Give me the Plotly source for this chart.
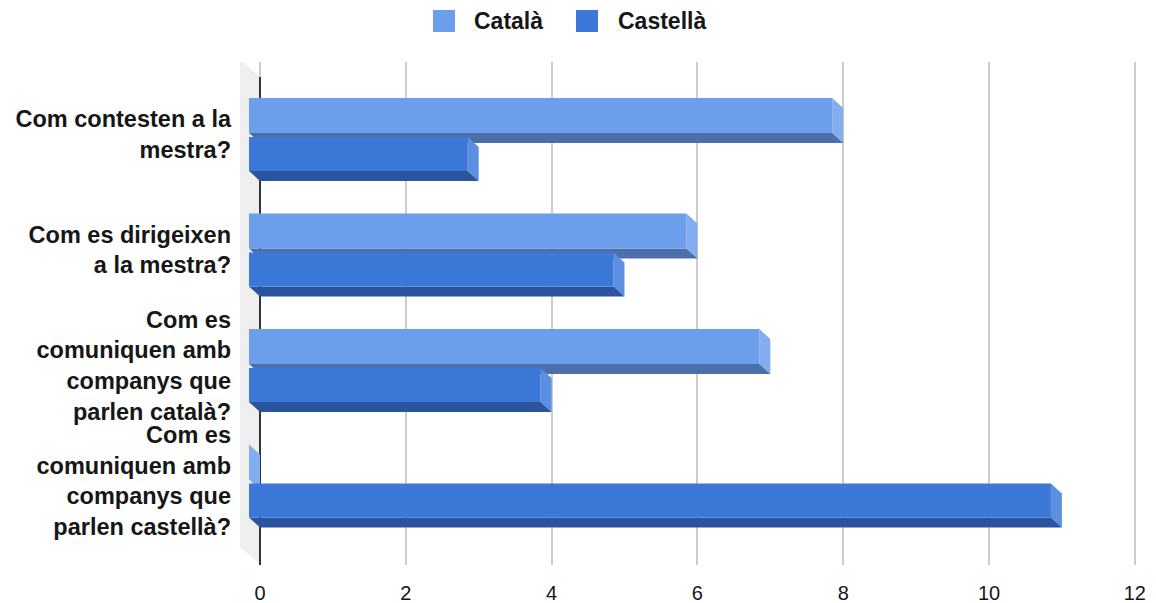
import plotly.graph_objects as go

# ---- data -------------------------------------------------------------
categories = [
    "Com contesten a la<br>mestra?",
    "Com es dirigeixen<br>a la mestra?",
    "Com es<br>comuniquen amb<br>companys que<br>parlen català?",
    "Com es<br>comuniquen amb<br>companys que<br>parlen castellà?",
]
catala = [8, 6, 7, 0]
castella = [3, 5, 4, 11]
series_names = ["Català", "Castellà"]
x_ticks = [0, 2, 4, 6, 8, 10, 12]

# ---- geometry (pixels) -------------------------------------------------
W, H = 1156, 603
PLOT_L, PLOT_R, PLOT_T, PLOT_B = 234, 1140, 62, 565
X0_PX, PX_PER_X = 260, 72.9          # back plane: value 0 and scale
CAT0_PX, PX_PER_CAT = 134.5, 115.5   # front-plane centre of first category
DEPTH_X_PX, DEPTH_Y_PX = 11, 10      # 3-D depth of the bars

x_range = [(PLOT_L - X0_PX) / PX_PER_X, (PLOT_R - X0_PX) / PX_PER_X]
y_range = [(PLOT_B - CAT0_PX) / PX_PER_CAT, (PLOT_T - CAT0_PX) / PX_PER_CAT]
dx = DEPTH_X_PX / PX_PER_X
dy = DEPTH_Y_PX / PX_PER_CAT

# vertical band of each series' front face, px from category centre
bands = [(-36.5, -1.5), (2.5, 36.5)]
colors = [
    # front, side, bottom
    ("#6d9eeb", "#82adf1", "#4b6faa"),
    ("#3c78d8", "#5b8fe2", "#2b549e"),
]

FONT = "Liberation Sans, Arial, sans-serif"
TEXT = "#161616"


def px_x(p):
    return (p - X0_PX) / PX_PER_X


def px_y(p):
    return (p - CAT0_PX) / PX_PER_CAT


def faces(values, band):
    """Polygons (None separated) for the front, side and bottom faces."""
    front, side, bottom = ([], []), ([], []), ([], [])
    for i, v in enumerate(values):
        top = i + band[0] / PX_PER_CAT
        bot = i + band[1] / PX_PER_CAT
        fx = [-dx, v - dx, v - dx, -dx, -dx]
        fy = [top, top, bot, bot, top]
        sx = [v - dx, v, v, v - dx, v - dx]
        sy = [top, top + dy, bot + dy, bot, top]
        bx = [-dx, v - dx, v, 0, -dx]
        by = [bot, bot, bot + dy, bot + dy, bot]
        for (xs, ys), (px_, py_) in ((side, (sx, sy)), (bottom, (bx, by)), (front, (fx, fy))):
            xs.extend(px_ + [None])
            ys.extend(py_ + [None])
    return front, side, bottom


fig = go.Figure()

# left wall of the 3-D box
wall_px = [(240, 60), (261, 78), (261, 565), (240, 547), (240, 60)]
fig.add_trace(go.Scatter(
    x=[px_x(p[0]) for p in wall_px], y=[px_y(p[1]) for p in wall_px],
    mode="lines", fill="toself", fillcolor="#efefef",
    line=dict(width=0), hoverinfo="skip", showlegend=False,
))

# value axis line at 0
fig.add_trace(go.Scatter(
    x=[0, 0], y=[px_y(77), px_y(565)], mode="lines",
    line=dict(color="#333333", width=2), hoverinfo="skip", showlegend=False,
))

for s, (vals, band, (c_front, c_side, c_bot)) in enumerate(
        zip([catala, castella], bands, colors)):
    front, side, bottom = faces(vals, band)
    for (xs, ys), col in ((side, c_side), (bottom, c_bot), (front, c_front)):
        fig.add_trace(go.Scatter(
            x=xs, y=ys, mode="lines", fill="toself", fillcolor=col,
            line=dict(width=0), hoverinfo="skip", showlegend=False,
        ))

# legend drawn at the top centre
def paper_x(p):
    return (p - PLOT_L) / (PLOT_R - PLOT_L)


def paper_y(p):
    return (PLOT_B - p) / (PLOT_B - PLOT_T)


legend_items = [(433, 472, colors[0][0]), (576, 616, colors[1][0])]
for name, (sq_x, txt_x, col) in zip(series_names, legend_items):
    fig.add_shape(
        type="rect", xref="paper", yref="paper",
        x0=paper_x(sq_x), x1=paper_x(sq_x + 22),
        y0=paper_y(10), y1=paper_y(32),
        fillcolor=col, line=dict(width=0),
    )
    fig.add_annotation(
        xref="paper", yref="paper", x=paper_x(txt_x), y=paper_y(21),
        text=name, showarrow=False, xanchor="left", yanchor="middle",
        font=dict(family=FONT, size=23, color=TEXT, weight="bold"),
    )

fig.update_layout(
    width=W, height=H,
    margin=dict(l=PLOT_L, r=W - PLOT_R, t=PLOT_T, b=H - PLOT_B, pad=0),
    plot_bgcolor="white", paper_bgcolor="white",
    showlegend=False,
    xaxis=dict(
        range=x_range, tickvals=x_ticks, ticktext=[str(t) for t in x_ticks],
        showgrid=True, gridcolor="#cccccc", gridwidth=1.5,
        zeroline=False, showline=False, ticks="",
        tickfont=dict(family=FONT, size=20, color=TEXT),
        ticklabelstandoff=14, fixedrange=True, automargin=False,
    ),
    yaxis=dict(
        range=y_range, tickvals=list(range(len(categories))), ticktext=categories,
        showgrid=False, zeroline=False, showline=False, ticks="",
        tickfont=dict(family=FONT, size=23.5, color=TEXT, weight="bold"),
        ticklabelstandoff=2, fixedrange=True, automargin=False,
    ),
)

fig.write_html("out.html")
